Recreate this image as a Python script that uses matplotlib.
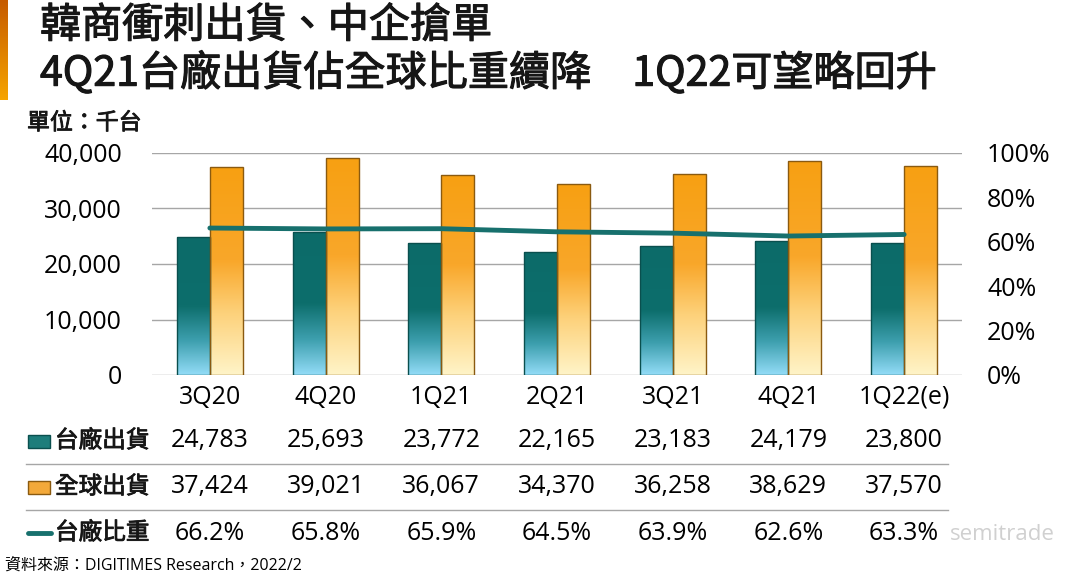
import numpy as np
import matplotlib.pyplot as plt
import matplotlib.transforms as mtransforms
import matplotlib.patheffects as pe
from matplotlib.colors import LinearSegmentedColormap
from matplotlib.patches import Rectangle
from matplotlib.lines import Line2D

plt.rcParams['font.family'] = ['Noto Sans CJK TC', 'DejaVu Sans']
NUM_FONT = ['Open Sans', 'Noto Sans CJK TC', 'DejaVu Sans']

# data
quarters = ['3Q20', '4Q20', '1Q21', '2Q21', '3Q21', '4Q21', '1Q22(e)']
tw_ship = [24783, 25693, 23772, 22165, 23183, 24179, 23800]
global_ship = [37424, 39021, 36067, 34370, 36258, 38629, 37570]
tw_share = [66.2, 65.8, 65.9, 64.5, 63.9, 62.6, 63.3]
row_labels = ['台廠出貨', '全球出貨', '台廠比重']
left_ticks = [0, 10000, 20000, 30000, 40000]
right_ticks = [0, 20, 40, 60, 80, 100]

W, H = 1080, 578
def fx(px):
    return px / W
def fy(px):
    return 1 - px / H

# regular weight thickened a little, close to the reference's semi-bold look
semi = [pe.withStroke(linewidth=0.8, foreground='#161616')]
semi_s = [pe.withStroke(linewidth=0.6, foreground='#161616')]

teal_cmap = LinearSegmentedColormap.from_list(
    'teal', [(0, '#93dcf7'), (0.25, '#3d9fae'), (0.5, '#0d6e6c'), (1, '#0c6b69')])
orange_cmap = LinearSegmentedColormap.from_list(
    'orange', [(0, '#fff4c8'), (0.3, '#fdd17a'), (0.55, '#f9a72a'), (1, '#f7a012')])

fig = plt.figure(figsize=(W / 100, H / 100), dpi=100)
fig.patch.set_facecolor('white')

# orange accent on the left
acc = fig.add_axes([0, fy(100), fx(8), 100 / H])
acc.imshow(np.linspace(0, 1, 100).reshape(-1, 1),
           cmap=LinearSegmentedColormap.from_list('acc', ['#c65b00', '#f6a400']),
           aspect='auto')
acc.axis('off')

# title
fig.text(fx(40), fy(26), '韓商衝刺出貨、中企搶單', fontsize=29.6,
         va='center', ha='left', color='#161616', path_effects=semi)
fig.text(fx(40), fy(73), '4Q21台廠出貨佔全球比重續降　1Q22可望略回升', fontsize=29.6,
         va='center', ha='left', color='#161616', path_effects=semi)
fig.text(fx(27), fy(123), '單位：千台', fontsize=16.5, va='center', ha='left',
         color='#161616', path_effects=semi_s)

ax = fig.add_axes([fx(152), fy(375), fx(962) - fx(152), (375 - 153) / H])
x = np.arange(len(quarters))
bw = 0.285

b1 = ax.bar(x - bw / 2, tw_ship, bw, facecolor='none', edgecolor='#0a4f4e', lw=1, zorder=3)
b2 = ax.bar(x + bw / 2, global_ship, bw, facecolor='none', edgecolor='#8a5a10', lw=1, zorder=3)

grad = np.linspace(0, 1, 256).reshape(-1, 1)
for bars, cm in [(b1, teal_cmap), (b2, orange_cmap)]:
    for b in bars:
        x0, y0, w, h = b.get_x(), b.get_y(), b.get_width(), b.get_height()
        im = ax.imshow(grad, cmap=cm, aspect='auto', origin='lower',
                       extent=[x0, x0 + w, y0, y0 + h], zorder=2)
        im.set_clip_path(b)

ax.set_xlim(-0.5, len(quarters) - 0.5)
ax.set_ylim(0, 40000)
ax.set_yticks(left_ticks)
ax.set_yticklabels([f'{v:,}' for v in left_ticks], fontsize=18, family=NUM_FONT)
ax.set_xticks(x)
ax.set_xticklabels(quarters, fontsize=18, family=NUM_FONT)
ax.tick_params(length=0, pad=7)
ax.tick_params(axis='y', pad=21.6)
ax.grid(axis='y', color='#a6a6a6', lw=1, zorder=0)
ax.set_axisbelow(True)
for s in ax.spines.values():
    s.set_visible(False)

ax2 = ax.twinx()
ax2.plot(x, tw_share, color='#17706d', lw=3.5, solid_capstyle='round', zorder=5)
ax2.set_ylim(0, 100)
ax2.set_yticks(right_ticks)
ax2.set_yticklabels([f'{v}%' for v in right_ticks], fontsize=18, family=NUM_FONT)
ax2.tick_params(length=0, pad=18)
for s in ax2.spines.values():
    s.set_visible(False)

# data table below
trans = mtransforms.blended_transform_factory(ax.transData, fig.transFigure)
rows = [[f'{v:,}' for v in tw_ship],
        [f'{v:,}' for v in global_ship],
        [f'{v:.1f}%' for v in tw_share]]
row_y = [441, 487, 533]
for r, (lab, vals, py) in enumerate(zip(row_labels, rows, row_y)):
    fig.text(fx(55), fy(py), lab, fontsize=17, va='center', ha='left',
             color='#161616', path_effects=semi_s)
    for xi, v in zip(x, vals):
        fig.text(xi, fy(py), v, fontsize=18, family=NUM_FONT, va='center', ha='center',
                 transform=trans)

# legend keys
fig.patches.append(Rectangle((fx(28), fy(448)), fx(22), 13 / H, transform=fig.transFigure,
                             facecolor='#1d7d7b', edgecolor='#0a4f4e', lw=1))
fig.patches.append(Rectangle((fx(28), fy(494)), fx(22), 13 / H, transform=fig.transFigure,
                             facecolor='#f3a93a', edgecolor='#8a5a10', lw=1))
fig.lines.append(Line2D([fx(28), fx(51)], [fy(533), fy(533)], transform=fig.transFigure,
                        color='#17706d', lw=3.5, solid_capstyle='round'))

for py in [464, 510]:
    fig.lines.append(Line2D([fx(26), fx(948)], [fy(py), fy(py)], transform=fig.transFigure,
                            color='#a6a6a6', lw=1))

fig.text(fx(5), fy(566), '資料來源：DIGITIMES Research，2022/2', fontsize=11.5,
         family=NUM_FONT, va='center', ha='left')
fig.text(fx(950), fy(534), 'semitrade', fontsize=16, family=NUM_FONT, va='center', ha='left',
         color='#c8c8c8', alpha=0.85, zorder=10)

fig.savefig('out.png', dpi=100)
